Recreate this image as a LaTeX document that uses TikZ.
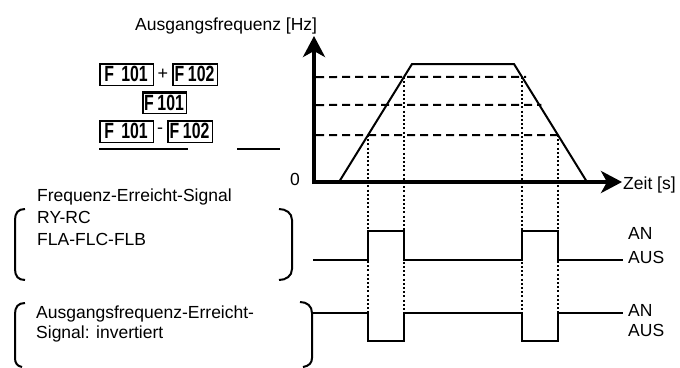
\documentclass[tikz,border=0pt]{standalone}
\usepackage{fontspec}
\setmainfont{Liberation Sans}
\newfontfamily\segfont{Liberation Sans}[FakeStretch=0.72]
\usetikzlibrary{arrows.meta,calc}
\begin{document}
\begin{tikzpicture}[x=1pt,y=-1pt,
  font=\fontsize{17.5}{20}\selectfont,
  lbl/.style={anchor=base west, inner sep=0pt},
  axisline/.style={line width=4pt, -{Stealth[length=21pt,width=22pt,inset=6pt]}},
  curveline/.style={line width=2pt, line join=miter},
  dashline/.style={line width=2pt, dash pattern=on 8pt off 5pt},
  dotline/.style={line width=2.2pt, dash pattern=on 2pt off 2.2pt},
  signal/.style={line width=2pt},
  bracket/.style={line width=2pt},
  segbox/.style={draw, line width=1pt, inner sep=0pt, minimum height=22pt,
    font=\segfont\bfseries\fontsize{22}{22}\selectfont,
    path picture={\draw[line width=4pt] (path picture bounding box.south west) -- (path picture bounding box.north west) -- (path picture bounding box.north east);}},
  opsign/.style={inner sep=0pt, font=\fontsize{18}{18}\selectfont}
  ]
\useasboundingbox (0,0) rectangle (680,367);

% ---- parameter boxes
\node[segbox, minimum width=54pt] (b1) at (126,74) {F\,\,101};
\node[opsign] (plus) at (163,74) {+};
\node[segbox, minimum width=45pt] (b2) at (194.5,74) {F\,102};
\node[segbox, minimum width=44pt] (b3) at (164,102.5) {F\,101};
\node[segbox, minimum width=54pt] (b4) at (126,131) {F\,\,101};
\node[opsign] (minus) at (160,131) {-};
\node[segbox, minimum width=45pt] (b5) at (189.5,131) {F\,102};
\coordinate (u1a) at (99,149);
\coordinate (u1b) at (188,149);
\coordinate (u2a) at (237,149);
\coordinate (u2b) at (280,149);
\draw[line width=1.5pt] (u1a) -- (u1b);
\draw[line width=1.5pt] (u2a) -- (u2b);

% ---- axes
\node[lbl] (ylab) at (135,30) {Ausgangsfrequenz [Hz]};
\node[lbl] (zero) at (290,185) {0};
\node[lbl] (xlab) at (623,189) {Zeit [s]};
\coordinate (o) at (314,182);
\coordinate (xend) at (622,182);
\coordinate (yend) at (314,36);
\draw[axisline] ($(o)+(-2,0)$) -- (xend);
\draw[axisline] ($(o)+(0,2)$) -- (yend);

% ---- frequency curve
\coordinate (r0) at (339,182);
\coordinate (r1) at (412,64);
\coordinate (f1) at (514,64);
\coordinate (f0) at (587,182);
\coordinate (ra) at ($(r0)!0.398!(r1)$);
\coordinate (rc) at ($(r0)!0.890!(r1)$);
\coordinate (fc) at ($(f1)!0.110!(f0)$);
\coordinate (fb) at ($(f1)!0.347!(f0)$);
\coordinate (fa) at ($(f1)!0.602!(f0)$);
\draw[dashline] (316,77) -- ($(fc)+(4,0)$);
\draw[dashline] (316,105) -- ($(fb)+(2,0)$);
\draw[dashline] (316,135) -- ($(fa)+(1,0)$);
\draw[curveline] (r0) -- (r1) -- (f1) -- (f0);

% ---- dotted verticals
\coordinate (lo) at (0,313);
\coordinate (lo2) at (0,328);
\draw[dotline] (ra) -- (ra |- lo);
\draw[dotline] (rc) -- (rc |- lo2);
\draw[dotline] (fc) -- (fc |- lo);
\draw[dotline] (fa) -- (fa |- lo);

% ---- signals
\draw[signal] (313,260) -- (368,260) -- (368,231) -- (404,231) -- (404,260) -- (522,260) -- (522,231) -- (558,231) -- (558,260) -- (623,260);
\draw[signal] (313,313) -- (368,313) -- (368,341) -- (404,341) -- (404,313) -- (522,313) -- (522,341) -- (558,341) -- (558,313) -- (623,313);
\node[lbl] (an1) at (628,239) {AN};
\node[lbl] (aus1) at (628,263) {AUS};
\node[lbl] (an2) at (628,316) {AN};
\node[lbl] (aus2) at (628,336) {AUS};

% ---- signal descriptions
\node[lbl] (t1) at (37,201) {Frequenz-Erreicht-Signal};
\node[lbl] (t2) at (37,223) {RY-RC};
\node[lbl] (t3) at (37,245) {FLA-FLC-FLB};
\node[lbl] (t4) at (36,318) {Ausgangsfrequenz-Erreicht-};
\node[lbl] (t5) at (36,338) {Signal: invertiert};

% ---- brackets
\draw[bracket] (25,209) .. controls (18,209) and (15,213) .. (15,220) -- (15,269) .. controls (15,276) and (18,280) .. (25,280);
\draw[bracket] (279,209) .. controls (286,209) and (292,213) .. (292,220) -- (292,269) .. controls (292,276) and (286,280) .. (279,280);
\draw[bracket] (25,303) .. controls (18,303) and (15,307) .. (15,314) -- (15,358) .. controls (15,363) and (17,366) .. (22,367);
\draw[bracket] (300,302) .. controls (307,302) and (312,306) .. (312,313) -- (312,358) .. controls (312,363) and (309,366) .. (303,367);
\end{tikzpicture}
\end{document}
